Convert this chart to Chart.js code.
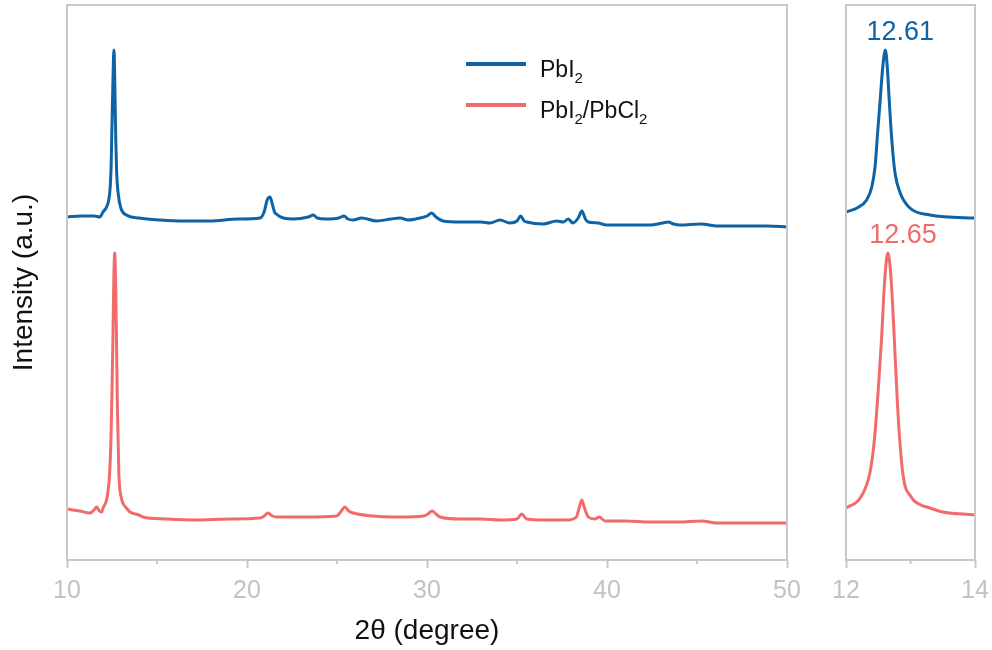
<!DOCTYPE html>
<html>
<head>
<meta charset="utf-8">
<title>XRD PbI2 / PbCl2</title>
<script src="https://cdn.jsdelivr.net/npm/chart.js@4.4.1/dist/chart.umd.min.js"></script>
<style>
  html, body { margin: 0; padding: 0; background: #fff; }
  #wrap { position: relative; width: 992px; height: 650px; }
  #main-box { position: absolute; left: 0; top: 0; width: 810px; height: 650px; }
  #zoom-box { position: absolute; left: 800px; top: 0; width: 192px; height: 650px; }
</style>
</head>
<body>
<div id="wrap">
  <div id="main-box"><canvas id="chart-main"></canvas></div>
  <div id="zoom-box"><canvas id="chart-zoom"></canvas></div>
</div>
<script>
// XRD patterns, intensity in a.u. (PbI2 trace offset above the mixed one)
const theta_PbI2 = [10.0, 10.8, 11.5, 11.83, 12.0, 12.17, 12.32, 12.40, 12.45, 12.49, 12.53, 12.57, 12.61,
  12.64, 12.67, 12.71, 12.76, 12.84, 12.99, 13.30, 14.0, 15.17, 16.5, 17.94, 19.5, 20.72, 20.95, 21.12,
  21.28, 21.42, 21.56, 22.57, 23.4, 23.68, 23.9, 24.43, 25.1, 25.39, 25.6, 25.9, 26.37, 27.2, 28.0, 28.5,
  28.96, 29.6, 30.0, 30.26, 30.5, 30.9, 31.83, 33.0, 33.5, 34.06, 34.6, 35.0, 35.2, 35.4, 35.54, 36.46,
  37.2, 37.57, 37.85, 38.1, 38.4, 38.6, 38.8, 38.96, 39.5, 39.98, 41.0, 42.4, 43.1, 43.4, 43.7, 44.06,
  45.26, 46.1, 47.5, 48.9, 50.0];
const int_PbI2 = [343, 344, 344, 343, 348, 352, 360, 373, 393, 427, 460, 493, 510,
  493, 460, 420, 387, 367, 352, 345, 342, 340, 339, 339, 341, 342, 348, 360,
  363, 355, 347, 341, 343, 345, 342, 341, 342, 344, 341, 340, 342, 339, 341, 342,
  340, 342, 344, 347, 343, 339, 338, 338, 337, 340, 337, 339, 344, 339, 338, 336,
  339, 338, 341, 337, 342, 349, 341, 338, 337, 335, 335, 335, 337, 338, 336, 335,
  336, 334, 334, 334, 333];

const theta_mixed = [10.0, 10.7, 11.28, 11.5, 11.65, 11.8, 11.93, 12.0, 12.22, 12.37, 12.44, 12.50, 12.55,
  12.60, 12.65, 12.70, 12.75, 12.80, 12.88, 13.01, 13.13, 13.30, 13.5, 14.0, 14.22, 15.5, 17.0, 19.0,
  20.72, 20.95, 21.17, 21.4, 21.65, 23.3, 24.98, 25.2, 25.44, 25.65, 25.9, 27.0, 28.1, 28.5, 29.8, 30.05,
  30.28, 30.5, 30.72, 31.83, 33.0, 34.06, 35.0, 35.26, 35.54, 36.5, 37.76, 38.3, 38.45, 38.6, 38.75,
  38.96, 39.33, 39.56, 39.9, 41.0, 42.4, 44.0, 45.26, 46.1, 48.0, 50.0];
const int_mixed = [51, 49, 47, 50, 53, 49, 48, 52, 62, 87, 120, 170, 220,
  280, 307, 280, 220, 153, 87, 63, 56, 52, 48, 45, 43, 41, 40, 41,
  42, 44, 47, 44, 43, 43, 44, 48, 53, 49, 47, 44, 43, 43, 44, 46,
  49, 46, 43, 41, 41, 40, 41, 46, 41, 40, 40, 43, 52, 60, 52,
  43, 41, 43, 39, 39, 38, 38, 39, 37, 37, 37];

const seriesNames = ['PbI_2', 'PbI_2/PbCl_2'];
const seriesColors = ['#0d63a5', '#f26b6b'];
const peakPositions = [12.61, 12.65];
const mainTicks = [10, 20, 30, 40, 50];
const mainMinor = [15, 25, 35, 45];
const zoomTicks = [12, 14];
const zoomMinor = [13];

Chart.defaults.font.family = '"Liberation Sans", Arial, sans-serif';
const frameColor = '#c8c8c8';
const tickTextColor = '#c2c2c2';

function toPoints(xs, ys) {
  return xs.map((x, i) => ({ x: x, y: ys[i] }));
}

function makeDatasets() {
  return [
    { label: 'PbI₂', data: toPoints(theta_PbI2, int_PbI2) },
    { label: 'PbI₂/PbCl₂', data: toPoints(theta_mixed, int_mixed) },
  ].map((d, i) => Object.assign(d, {
    borderColor: seriesColors[i],
    borderWidth: 3,
    pointRadius: 0,
    fill: false,
    cubicInterpolationMode: 'monotone',
    borderJoinStyle: 'round',
    borderCapStyle: 'round',
  }));
}

// draw text with "_x" meaning subscript x
function drawRich(ctx, text, x, y, size) {
  let cx = x;
  for (let i = 0; i < text.length; i++) {
    let ch = text[i];
    if (ch === '_' && i + 1 < text.length) {
      ch = text[++i];
      ctx.font = Math.round(size * 0.65) + 'px "Liberation Sans", Arial, sans-serif';
      ctx.fillText(ch, cx, y + size * 0.24);
    } else {
      ctx.font = size + 'px "Liberation Sans", Arial, sans-serif';
      ctx.fillText(ch, cx, y);
    }
    cx += ctx.measureText(ch).width;
  }
}

// box around the plot area plus short minor ticks
const framePlugin = {
  id: 'frame',
  afterDatasetsDraw(chart, args, opts) {
    const { ctx, chartArea: a } = chart;
    const xs = chart.scales.x;
    ctx.save();
    ctx.strokeStyle = frameColor;
    ctx.lineWidth = 2;
    ctx.strokeRect(a.left, a.top, a.right - a.left, a.bottom - a.top);
    ctx.beginPath();
    (opts.minor || []).forEach(v => {
      const px = xs.getPixelForValue(v);
      ctx.moveTo(px, a.bottom);
      ctx.lineTo(px, a.bottom + 4);
    });
    ctx.stroke();
    ctx.restore();
  }
};

const legendPlugin = {
  id: 'subLegend',
  afterDraw(chart, args, opts) {
    if (!opts.show) return;
    const ctx = chart.ctx;
    const a = chart.chartArea;
    ctx.save();
    ctx.textBaseline = 'alphabetic';
    ctx.fillStyle = '#111';
    seriesNames.forEach((name, i) => {
      const y = a.top + 59 + i * 41;
      ctx.strokeStyle = seriesColors[i];
      ctx.lineWidth = 4;
      ctx.beginPath();
      ctx.moveTo(a.left + 399, y);
      ctx.lineTo(a.left + 459, y);
      ctx.stroke();
      drawRich(ctx, name, a.left + 473, y + 13, 23);
    });
    ctx.restore();
  }
};

const peakLabelPlugin = {
  id: 'peakLabels',
  afterDatasetsDraw(chart, args, opts) {
    if (!opts.show) return;
    const ctx = chart.ctx;
    const xs = chart.scales.x, ys = chart.scales.y;
    ctx.save();
    ctx.font = '27px "Liberation Sans", Arial, sans-serif';
    ctx.textAlign = 'center';
    ctx.textBaseline = 'middle';
    chart.data.datasets.forEach((ds, i) => {
      const pos = peakPositions[i];
      const top = Math.max(...ds.data.map(p => p.y));
      ctx.fillStyle = seriesColors[i];
      ctx.fillText(pos.toFixed(2), xs.getPixelForValue(pos) + 15, ys.getPixelForValue(top) - 17);
    });
    ctx.restore();
  }
};

function makeOptions(cfg) {
  return {
    responsive: true,
    maintainAspectRatio: false,
    animation: false,
    layout: { padding: { top: 5, right: cfg.padRight, bottom: 0, left: 0 } },
    plugins: {
      legend: { display: false },
      tooltip: { enabled: false },
      frame: { minor: cfg.minor },
      subLegend: { show: cfg.legend },
      peakLabels: { show: cfg.peaks },
    },
    scales: {
      x: {
        type: 'linear',
        min: cfg.min,
        max: cfg.max,
        afterFit: s => { s.height = 90; s.paddingLeft = 0; s.paddingRight = 0; },
        afterBuildTicks: s => { s.ticks = cfg.ticks.map(v => ({ value: v })); },
        border: { display: false },
        grid: { display: true, drawOnChartArea: false, drawTicks: true, tickLength: 8, tickColor: frameColor, tickWidth: 2 },
        ticks: { color: tickTextColor, font: { size: 25 }, padding: 8, maxRotation: 0 },
        title: {
          display: cfg.xTitle,
          text: '2θ (degree)',
          color: '#111',
          font: { size: 28 },
          padding: { top: 0, bottom: 2 },
        },
      },
      y: {
        min: 0,
        max: 555,
        afterFit: s => { s.width = cfg.yWidth; },
        border: { display: false },
        grid: { display: false },
        ticks: { display: false },
        title: {
          display: cfg.yTitle,
          text: 'Intensity (a.u.)',
          color: '#111',
          font: { size: 28 },
          padding: { top: 7, bottom: 0 },
        },
      },
    },
  };
}

const plugins = [framePlugin, legendPlugin, peakLabelPlugin];

new Chart(document.getElementById('chart-main').getContext('2d'), {
  type: 'line',
  data: { datasets: makeDatasets() },
  options: makeOptions({
    min: 10, max: 50, ticks: mainTicks, minor: mainMinor,
    padRight: 23, yWidth: 67, xTitle: true, yTitle: true, legend: true, peaks: false,
  }),
  plugins: plugins,
});

new Chart(document.getElementById('chart-zoom').getContext('2d'), {
  type: 'line',
  data: { datasets: makeDatasets() },
  options: makeOptions({
    min: 12, max: 14, ticks: zoomTicks, minor: zoomMinor,
    padRight: 17, yWidth: 46, xTitle: false, yTitle: false, legend: false, peaks: true,
  }),
  plugins: plugins,
});
</script>
</body>
</html>
